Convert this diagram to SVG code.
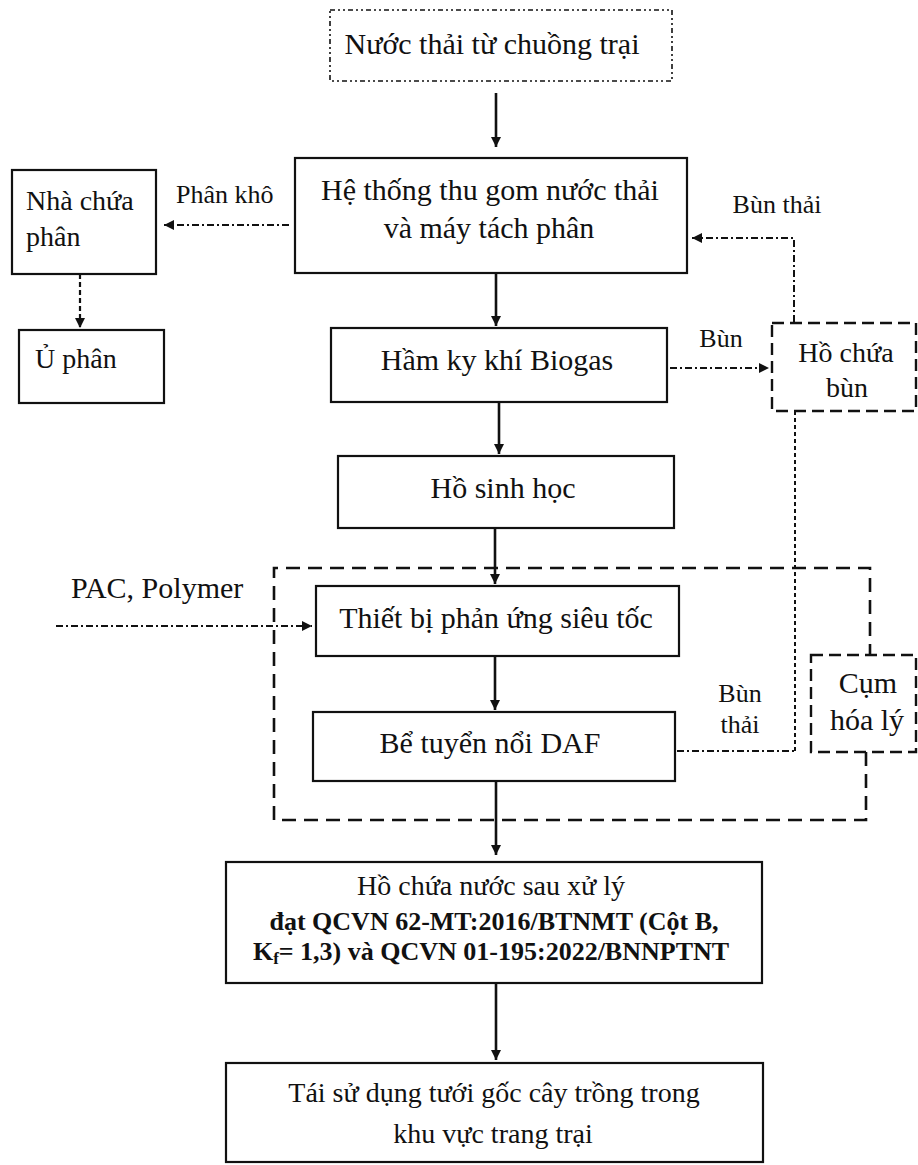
<svg xmlns="http://www.w3.org/2000/svg" width="918" height="1165" viewBox="0 0 918 1165">
<style>
  .box{fill:#fff;stroke:#111;stroke-width:2.2}
  .t{font-family:"Liberation Serif","Times New Roman",serif;font-size:30px;fill:#111}
  .s{font-size:28px}
  .tb{font-family:"Liberation Serif","Times New Roman",serif;font-size:26px;font-weight:bold;fill:#111}
  .lbl{font-family:"Liberation Serif","Times New Roman",serif;font-size:26px;fill:#111}
  .m{text-anchor:middle}
  .solid{fill:none;stroke:#111;stroke-width:2.6}
  .dd{fill:none;stroke:#111;stroke-width:2;stroke-dasharray:7 3 2 3}
  .dash{fill:none;stroke:#111;stroke-width:2.2;stroke-dasharray:5 3}
  .dots{fill:none;stroke:#111;stroke-width:2;stroke-dasharray:4 3}
  .dbox{fill:#fff;stroke:#111;stroke-width:2.4;stroke-dasharray:12 6}
  .big{fill:none;stroke:#111;stroke-width:2.6;stroke-dasharray:14 8}
</style>
<defs>
  <marker id="ah" viewBox="0 0 10 10" refX="10" refY="5" markerWidth="11" markerHeight="10" markerUnits="userSpaceOnUse" orient="auto">
    <path d="M0,0 L10,5 L0,10 z" fill="#111"/>
  </marker>
</defs>
<rect width="918" height="1165" fill="#fff"/>

<g id="cluster">
  <path class="big" d="M866,752 L866,820 L274,820 L274,568 L870,568 L870,655"/>
</g>

<g id="n-source">
  <rect x="330" y="10" width="342" height="71" fill="#fff" stroke="#111" stroke-width="1.6" stroke-dasharray="5 3 2 3 2 3"/>
  <text class="t m" x="492" y="54">Nước thải từ chuồng trại</text>
</g>
<g id="n-collect">
  <rect class="box" x="295" y="158" width="392" height="115"/>
  <text class="t m" x="490" y="200">Hệ thống thu gom nước thải</text>
  <text class="t m" x="489" y="238">và máy tách phân</text>
</g>
<g id="n-manure">
  <rect class="box" x="12" y="170" width="144" height="104"/>
  <text class="t s" x="26" y="210">Nhà chứa</text>
  <text class="t s" x="26" y="246">phân</text>
</g>
<g id="n-compost">
  <rect class="box" x="19" y="330" width="145" height="73"/>
  <text class="t s" x="35" y="368">Ủ phân</text>
</g>
<g id="n-biogas">
  <rect class="box" x="331" y="328" width="336" height="74"/>
  <text class="t m" x="497" y="370">Hầm ky khí Biogas</text>
</g>
<g id="n-sludge">
  <rect class="dbox" x="772" y="323" width="144" height="88"/>
  <text class="t s m" x="846" y="362">Hồ chứa</text>
  <text class="t s m" x="847" y="397">bùn</text>
</g>
<g id="n-bio">
  <rect class="box" x="338" y="456" width="336" height="72"/>
  <text class="t m" x="503" y="498">Hồ sinh học</text>
</g>
<g id="n-reactor">
  <rect class="box" x="316" y="586" width="363" height="70"/>
  <text class="t m" x="496" y="628">Thiết bị phản ứng siêu tốc</text>
</g>
<g id="n-daf">
  <rect class="box" x="313" y="712" width="362" height="69"/>
  <text class="t m" x="490" y="753">Bể tuyển nổi DAF</text>
</g>
<g id="n-physchem">
  <rect class="dbox" x="811" y="655" width="105" height="97"/>
  <text class="t m" x="868" y="693" font-size="27">Cụm</text>
  <text class="t m" x="867" y="730" font-size="27">hóa lý</text>
</g>
<g id="n-tank">
  <rect class="box" x="226" y="862" width="536" height="121"/>
  <text class="t s m" x="491" y="895">Hồ chứa nước sau xử lý</text>
  <text class="tb m" x="494" y="930">đạt QCVN 62-MT:2016/BTNMT (Cột B,</text>
  <text class="tb m" x="491" y="960">K<tspan font-size="17" dy="4">f</tspan><tspan dy="-4">= 1,3) và QCVN 01-195:2022/BNNPTNT</tspan></text>
</g>
<g id="n-reuse">
  <rect class="box" x="226" y="1063" width="537" height="99"/>
  <text class="t s m" x="494" y="1102">Tái sử dụng tưới gốc cây trồng trong</text>
  <text class="t s m" x="493" y="1143">khu vực trang trại</text>
</g>
<g id="n-pac">
  <text class="t" x="71" y="598">PAC, Polymer</text>
</g>

<g id="connectors">
  <line class="solid" x1="496" y1="93" x2="496" y2="147" marker-end="url(#ah)"/>
  <line class="solid" x1="496" y1="273" x2="496" y2="326" marker-end="url(#ah)"/>
  <line class="solid" x1="499" y1="402" x2="499" y2="454" marker-end="url(#ah)"/>
  <line class="solid" x1="495" y1="528" x2="495" y2="584" marker-end="url(#ah)"/>
  <line class="solid" x1="495" y1="656" x2="495" y2="710" marker-end="url(#ah)"/>
  <line class="solid" x1="496" y1="781" x2="496" y2="855" marker-end="url(#ah)"/>
  <line class="solid" x1="496" y1="983" x2="496" y2="1060" marker-end="url(#ah)"/>
  <line class="dd" x1="289" y1="225" x2="164" y2="225" marker-end="url(#ah)"/>
  <line class="dash" x1="80" y1="274" x2="80" y2="328" marker-end="url(#ah)"/>
  <line class="dd" x1="670" y1="368" x2="769" y2="368" marker-end="url(#ah)"/>
  <path class="dd" d="M794,322 L794,238 L692,238" marker-end="url(#ah)"/>
  <line class="dd" x1="56" y1="626" x2="312" y2="626" marker-end="url(#ah)"/>
  <path class="dd" d="M677,751 L795,751"/>
  <path class="dots" d="M795,751 L795,412"/>
  <text class="lbl" x="176" y="203">Phân khô</text>
  <text class="lbl" x="721" y="347" text-anchor="middle">Bùn</text>
  <text class="lbl" x="777" y="213" text-anchor="middle">Bùn thải</text>
  <text class="lbl" x="740" y="702" text-anchor="middle">Bùn</text>
  <text class="lbl" x="740" y="733" text-anchor="middle">thải</text>
</g>
</svg>
